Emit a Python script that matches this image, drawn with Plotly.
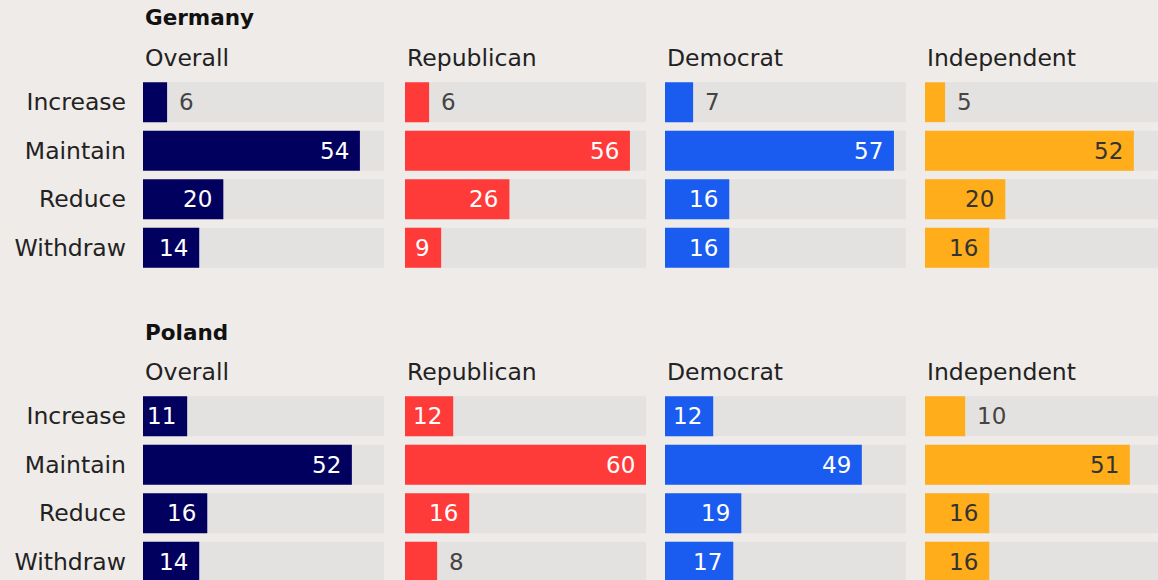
import plotly.graph_objects as go
from plotly.subplots import make_subplots

# survey: what should the US do with its troops stationed in ...
COUNTRIES = ["Germany", "Poland"]
GROUPS = ["Overall", "Republican", "Democrat", "Independent"]
ANSWERS = ["Increase", "Maintain", "Reduce", "Withdraw"]

germany_overall = [6, 54, 20, 14]
germany_republican = [6, 56, 26, 9]
germany_democrat = [7, 57, 16, 16]
germany_independent = [5, 52, 20, 16]

poland_overall = [11, 52, 16, 14]
poland_republican = [12, 60, 16, 8]
poland_democrat = [12, 49, 19, 17]
poland_independent = [10, 51, 16, 16]

SCALE_MAX = 60

VALUES = {
    "Germany": [germany_overall, germany_republican, germany_democrat, germany_independent],
    "Poland": [poland_overall, poland_republican, poland_democrat, poland_independent],
}

BG = "#efebe8"
TRACK = "#e3e2e0"
COLORS = ["#02005e", "#ff3b3a", "#1a5cf0", "#ffad1a"]
INSIDE_TXT = ["#ffffff", "#ffffff", "#ffffff", "#333333"]
FONT = "DejaVu Sans"

W, H = 1158, 580
PX_PER_UNIT = 241 / SCALE_MAX
COL_LEFT = [143, 405, 665, 925]
ROW_TOP = [78, 392]      # top of the bar block, px
ROW_PITCH = 48.5


def px_x(p):
    return min(p / W, 1.0)


def px_y(p):
    return max(1 - p / H, 0.0)


def label_fits(v):
    # rough width of the number in px plus padding on both sides
    w = sum(9 if c == "1" else 14 for c in str(v))
    return w + 20 <= v * PX_PER_UNIT


fig = make_subplots(rows=2, cols=4, horizontal_spacing=0.02, vertical_spacing=0.1)
annotations = []

for r, country in enumerate(COUNTRIES):
    for c, group in enumerate(GROUPS):
        vals = VALUES[country][c]
        row, col = r + 1, c + 1
        fig.add_trace(go.Bar(y=ANSWERS, x=[SCALE_MAX] * len(ANSWERS), orientation="h",
                             marker=dict(color=TRACK, line_width=0), hoverinfo="skip",
                             showlegend=False), row=row, col=col)
        fig.add_trace(go.Bar(y=ANSWERS, x=vals, orientation="h",
                             marker=dict(color=COLORS[c], line_width=0),
                             showlegend=False), row=row, col=col)

        idx = r * 4 + c + 1
        xa = "x" if idx == 1 else f"x{idx}"
        ya = "y" if idx == 1 else f"y{idx}"
        for ans, v in zip(ANSWERS, vals):
            inside = label_fits(v)
            annotations.append(dict(
                x=v, y=ans, xref=xa, yref=ya, text=str(v), showarrow=False,
                xanchor="right" if inside else "left", xshift=-9 if inside else 10,
                font=dict(family=FONT, size=23,
                          color=INSIDE_TXT[c] if inside else "#444444")))

        left = COL_LEFT[c]
        right = left + SCALE_MAX * PX_PER_UNIT
        top = ROW_TOP[r]
        bottom = top + ROW_PITCH * len(ANSWERS)
        visible_right = min(right, W)
        visible_bottom = min(bottom, H)
        x_hi = (visible_right - left) / PX_PER_UNIT
        y_lo = -0.5 + (visible_bottom - top) / ROW_PITCH
        fig.update_xaxes(domain=[px_x(left), px_x(visible_right)], range=[0, x_hi],
                         visible=False, fixedrange=True, row=row, col=col)
        fig.update_yaxes(domain=[px_y(visible_bottom), px_y(top)],
                         categoryorder="array", categoryarray=ANSWERS,
                         range=[y_lo, -0.5], showgrid=False, zeroline=False,
                         showline=False, ticks="", showticklabels=(c == 0),
                         ticklabelstandoff=16, fixedrange=True,
                         tickfont=dict(family=FONT, size=23.5, color="#222222"),
                         row=row, col=col)

        annotations.append(dict(
            x=px_x(left), y=px_y(top - 20), xref="paper", yref="paper",
            text=group, showarrow=False, xanchor="left", yanchor="middle",
            font=dict(family=FONT, size=23.5, color="#222222")))

    annotations.append(dict(
        x=px_x(COL_LEFT[0]), y=px_y(ROW_TOP[r] - 60), xref="paper", yref="paper",
        text=f"<b>{country}</b>", showarrow=False, xanchor="left", yanchor="middle",
        font=dict(family=FONT, size=21.5, color="#111111")))

fig.update_layout(
    width=W, height=H,
    margin=dict(l=0, r=0, t=0, b=0),
    paper_bgcolor=BG, plot_bgcolor=BG,
    barmode="overlay", bargap=0.18,
    annotations=annotations,
    font=dict(family=FONT),
)

fig.write_html("out.html", config={"displayModeBar": False},
               post_script="document.body.style.margin='0';")
